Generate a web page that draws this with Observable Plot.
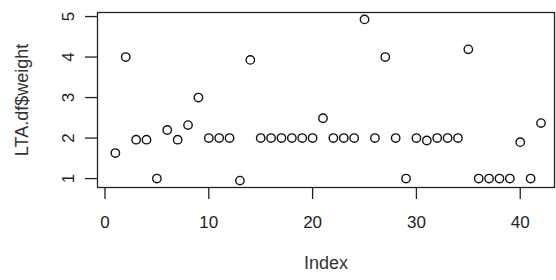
<!DOCTYPE html>
<html>
<head>
<meta charset="utf-8">
<script src="https://cdn.jsdelivr.net/npm/d3@7"></script>
<script src="https://cdn.jsdelivr.net/npm/@observablehq/plot@0.6"></script>
<style>
  html, body { margin: 0; padding: 0; background: #fff; }
  svg { display: block; }
</style>
</head>
<body>
<div id="chart"></div>
<script>
const weight = [1.63, 4.0, 1.96, 1.96, 1.0, 2.2, 1.96, 2.32, 3.0, 2.0,
                2.0, 2.0, 0.95, 3.93, 2.0, 2.0, 2.0, 2.0, 2.0, 2.0,
                2.49, 2.0, 2.0, 2.0, 4.93, 2.0, 4.0, 2.0, 1.0, 2.0,
                1.94, 2.0, 2.0, 2.0, 4.19, 1.0, 1.0, 1.0, 1.0, 1.9,
                1.0, 2.37];
const index = weight.map((_, i) => i + 1);
const xTicks = [0, 10, 20, 30, 40];
const yTicks = [1, 2, 3, 4, 5];
const xLabel = "Index";
const yLabel = "LTA.df$weight";

const data = index.map((d, i) => ({index: d, weight: weight[i]}));

const chart = Plot.plot({
  width: 556,
  height: 280,
  marginTop: 12,
  marginBottom: 93,
  marginLeft: 97,
  marginRight: 2,
  style: {fontFamily: "'Liberation Sans', Arial, sans-serif", fontSize: "17px", color: "#222", background: "#fff"},
  x: {domain: [-0.72, 43.3]},
  y: {domain: [0.78, 5.1]},
  marks: [
    Plot.frame({stroke: "#222", strokeWidth: 1.3}),
    Plot.axisX({ticks: xTicks, tickSize: 12, tickPadding: 16, tickFormat: "d", label: null, stroke: "#222", strokeWidth: 1.3, fontSize: 17}),
    Plot.axisY({ticks: yTicks, tickSize: 12, tickPadding: 12, tickFormat: "d", tickRotate: -90, label: null, stroke: "#222", strokeWidth: 1.3, fontSize: 17}),
    Plot.text([xLabel], {frameAnchor: "bottom", dy: 81, fontSize: 18, fill: "#333"}),
    Plot.text([yLabel], {frameAnchor: "left", dx: -75, rotate: -90, textAnchor: "middle", fontSize: 18, fill: "#333"}),
    Plot.dot(data, {x: "index", y: "weight", r: 4.2, stroke: "#111", strokeWidth: 1.4, fill: "none"})
  ]
});
document.getElementById("chart").appendChild(chart);
</script>
</body>
</html>
